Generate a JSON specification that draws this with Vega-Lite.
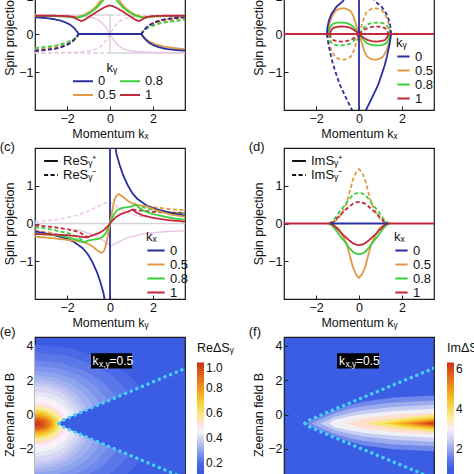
{
"$schema":"https://vega.github.io/schema/vega-lite/v6.json",
"background":"white",
"padding":{"left":-1,"top":-43,"right":0,"bottom":0},
"autosize":{"type":"pad"},
"columns":2,
"spacing":{"row":38,"column":99},
"bounds":"flush",
"resolve":{"scale":{"x":"independent","y":"independent","color":"independent","strokeDash":"independent"},"legend":{"color":"independent","strokeDash":"independent"},"axis":{"x":"independent","y":"independent"}},
"config":{
 "font":"Liberation Sans",
 "view":{"stroke":"#1a1a1a","strokeWidth":1.2},
 "axis":{"labelFont":"Liberation Sans","titleFont":"Liberation Sans","labelFontSize":12.5,"titleFontSize":12.5,"titleFontWeight":"normal","labelColor":"#111","titleColor":"#111","grid":false,"domain":false,"tickColor":"#222","tickSize":-4,"labelPadding":6,"titlePadding":2},
 "axisX":{"titlePadding":3},
 "legend":{"labelFont":"Liberation Sans","titleFont":"Liberation Sans","labelFontSize":13,"titleFontSize":13,"titleFontWeight":"normal","labelColor":"#111","titleColor":"#111","symbolType":"stroke","symbolStrokeWidth":2,"rowPadding":0,"titlePadding":0,"padding":0,"labelOffset":4},
 "title":{"font":"Liberation Sans","fontSize":13,"fontWeight":"normal","color":"#111"}
},
"datasets":{
"Ag":[
{"s":"g1","t":"+","x":-3.5,"y":0.5},{"s":"g1","t":"+","x":0,"y":0.5},
{"s":"g2","t":"+","x":0,"y":0.5},{"s":"g2","t":"+","x":0,"y":-0.5},
{"s":"g3","t":"+","x":0,"y":-0.5},{"s":"g3","t":"+","x":3.5,"y":-0.5},
{"s":"g4","t":"-","x":-3.5,"y":-0.5},{"s":"g4","t":"-","x":0,"y":-0.5},
{"s":"g5","t":"-","x":0,"y":0.5},{"s":"g5","t":"-","x":3.5,"y":0.5}],
"Ak":[
{"s":"p1","t":"+","x":-3.5,"y":0.495},{"s":"p1","t":"+","x":-2,"y":0.485},{"s":"p1","t":"+","x":-1.5,"y":0.474},{"s":"p1","t":"+","x":-1.2,"y":0.46},{"s":"p1","t":"+","x":-1,"y":0.447},{"s":"p1","t":"+","x":-0.8,"y":0.424},{"s":"p1","t":"+","x":-0.6,"y":0.384},{"s":"p1","t":"+","x":-0.4,"y":0.312},{"s":"p1","t":"+","x":-0.2,"y":0.186},{"s":"p1","t":"+","x":0,"y":0},{"s":"p1","t":"+","x":0.2,"y":-0.186},{"s":"p1","t":"+","x":0.4,"y":-0.312},{"s":"p1","t":"+","x":0.6,"y":-0.384},{"s":"p1","t":"+","x":0.8,"y":-0.424},{"s":"p1","t":"+","x":1,"y":-0.447},{"s":"p1","t":"+","x":1.2,"y":-0.46},{"s":"p1","t":"+","x":1.5,"y":-0.474},{"s":"p1","t":"+","x":2,"y":-0.485},{"s":"p1","t":"+","x":3.5,"y":-0.495},
{"s":"p2","t":"-","x":-3.5,"y":-0.495},{"s":"p2","t":"-","x":-2,"y":-0.485},{"s":"p2","t":"-","x":-1.5,"y":-0.474},{"s":"p2","t":"-","x":-1.2,"y":-0.46},{"s":"p2","t":"-","x":-1,"y":-0.447},{"s":"p2","t":"-","x":-0.8,"y":-0.424},{"s":"p2","t":"-","x":-0.6,"y":-0.384},{"s":"p2","t":"-","x":-0.4,"y":-0.312},{"s":"p2","t":"-","x":-0.2,"y":-0.186},{"s":"p2","t":"-","x":0,"y":0},{"s":"p2","t":"-","x":0.2,"y":0.186},{"s":"p2","t":"-","x":0.4,"y":0.312},{"s":"p2","t":"-","x":0.6,"y":0.384},{"s":"p2","t":"-","x":0.8,"y":0.424},{"s":"p2","t":"-","x":1,"y":0.447},{"s":"p2","t":"-","x":1.2,"y":0.46},{"s":"p2","t":"-","x":1.5,"y":0.474},{"s":"p2","t":"-","x":2,"y":0.485},{"s":"p2","t":"-","x":3.5,"y":0.495}],
"A":[
{"s":"a5d","k":"0.5","t":"-","x":-3.5,"y":-0.41},{"s":"a5d","k":"0.5","t":"-","x":-3,"y":-0.38},{"s":"a5d","k":"0.5","t":"-","x":-2.5,"y":-0.34},{"s":"a5d","k":"0.5","t":"-","x":-2.1,"y":-0.28},{"s":"a5d","k":"0.5","t":"-","x":-1.8,"y":-0.2},{"s":"a5d","k":"0.5","t":"-","x":-1.6,"y":-0.11},{"s":"a5d","k":"0.5","t":"-","x":-1.46,"y":0},
{"s":"a5e","k":"0.5","t":"-","x":1.46,"y":0},{"s":"a5e","k":"0.5","t":"-","x":1.6,"y":0.11},{"s":"a5e","k":"0.5","t":"-","x":1.8,"y":0.2},{"s":"a5e","k":"0.5","t":"-","x":2.1,"y":0.28},{"s":"a5e","k":"0.5","t":"-","x":2.5,"y":0.34},{"s":"a5e","k":"0.5","t":"-","x":3,"y":0.38},{"s":"a5e","k":"0.5","t":"-","x":3.5,"y":0.41},
{"s":"a5r","k":"0.5","t":"+","x":1.46,"y":0},{"s":"a5r","k":"0.5","t":"+","x":1.6,"y":-0.1},{"s":"a5r","k":"0.5","t":"+","x":1.8,"y":-0.19},{"s":"a5r","k":"0.5","t":"+","x":2.1,"y":-0.27},{"s":"a5r","k":"0.5","t":"+","x":2.5,"y":-0.33},{"s":"a5r","k":"0.5","t":"+","x":3,"y":-0.37},{"s":"a5r","k":"0.5","t":"+","x":3.5,"y":-0.4},
{"s":"a8d","k":"0.8","t":"-","x":-3.5,"y":-0.37},{"s":"a8d","k":"0.8","t":"-","x":-3,"y":-0.34},{"s":"a8d","k":"0.8","t":"-","x":-2.5,"y":-0.3},{"s":"a8d","k":"0.8","t":"-","x":-2.1,"y":-0.24},{"s":"a8d","k":"0.8","t":"-","x":-1.8,"y":-0.17},{"s":"a8d","k":"0.8","t":"-","x":-1.6,"y":-0.1},{"s":"a8d","k":"0.8","t":"-","x":-1.46,"y":0},
{"s":"a8e","k":"0.8","t":"-","x":1.46,"y":0},{"s":"a8e","k":"0.8","t":"-","x":1.6,"y":0.1},{"s":"a8e","k":"0.8","t":"-","x":1.8,"y":0.17},{"s":"a8e","k":"0.8","t":"-","x":2.1,"y":0.24},{"s":"a8e","k":"0.8","t":"-","x":2.5,"y":0.3},{"s":"a8e","k":"0.8","t":"-","x":3,"y":0.34},{"s":"a8e","k":"0.8","t":"-","x":3.5,"y":0.37},
{"s":"a1d","k":"1","t":"-","x":-3.5,"y":-0.45},{"s":"a1d","k":"1","t":"-","x":-3,"y":-0.42},{"s":"a1d","k":"1","t":"-","x":-2.5,"y":-0.38},{"s":"a1d","k":"1","t":"-","x":-2.1,"y":-0.31},{"s":"a1d","k":"1","t":"-","x":-1.8,"y":-0.22},{"s":"a1d","k":"1","t":"-","x":-1.6,"y":-0.12},{"s":"a1d","k":"1","t":"-","x":-1.46,"y":0},
{"s":"a1e","k":"1","t":"-","x":1.46,"y":0},{"s":"a1e","k":"1","t":"-","x":1.6,"y":0.12},{"s":"a1e","k":"1","t":"-","x":1.8,"y":0.22},{"s":"a1e","k":"1","t":"-","x":2.1,"y":0.31},{"s":"a1e","k":"1","t":"-","x":2.5,"y":0.38},{"s":"a1e","k":"1","t":"-","x":3,"y":0.42},{"s":"a1e","k":"1","t":"-","x":3.5,"y":0.45},
{"s":"a0d","k":"0","t":"-","x":-3.5,"y":-0.44},{"s":"a0d","k":"0","t":"-","x":-3,"y":-0.42},{"s":"a0d","k":"0","t":"-","x":-2.6,"y":-0.39},{"s":"a0d","k":"0","t":"-","x":-2.3,"y":-0.35},{"s":"a0d","k":"0","t":"-","x":-2.05,"y":-0.3},{"s":"a0d","k":"0","t":"-","x":-1.85,"y":-0.24},{"s":"a0d","k":"0","t":"-","x":-1.7,"y":-0.17},{"s":"a0d","k":"0","t":"-","x":-1.6,"y":-0.11},{"s":"a0d","k":"0","t":"-","x":-1.52,"y":-0.05},{"s":"a0d","k":"0","t":"-","x":-1.46,"y":0},{"s":"a0d","k":"0","t":"-","x":1.46,"y":0},{"s":"a0d","k":"0","t":"-","x":1.52,"y":0.05},{"s":"a0d","k":"0","t":"-","x":1.6,"y":0.11},{"s":"a0d","k":"0","t":"-","x":1.7,"y":0.17},{"s":"a0d","k":"0","t":"-","x":1.85,"y":0.24},{"s":"a0d","k":"0","t":"-","x":2.05,"y":0.3},{"s":"a0d","k":"0","t":"-","x":2.3,"y":0.35},{"s":"a0d","k":"0","t":"-","x":2.6,"y":0.39},{"s":"a0d","k":"0","t":"-","x":3,"y":0.42},{"s":"a0d","k":"0","t":"-","x":3.5,"y":0.44},
{"s":"a0s","k":"0","t":"+","x":-3.5,"y":0.44},{"s":"a0s","k":"0","t":"+","x":-3,"y":0.42},{"s":"a0s","k":"0","t":"+","x":-2.6,"y":0.39},{"s":"a0s","k":"0","t":"+","x":-2.3,"y":0.35},{"s":"a0s","k":"0","t":"+","x":-2.05,"y":0.3},{"s":"a0s","k":"0","t":"+","x":-1.85,"y":0.24},{"s":"a0s","k":"0","t":"+","x":-1.7,"y":0.17},{"s":"a0s","k":"0","t":"+","x":-1.6,"y":0.11},{"s":"a0s","k":"0","t":"+","x":-1.52,"y":0.05},{"s":"a0s","k":"0","t":"+","x":-1.46,"y":0},{"s":"a0s","k":"0","t":"+","x":1.46,"y":0},{"s":"a0s","k":"0","t":"+","x":1.52,"y":-0.05},{"s":"a0s","k":"0","t":"+","x":1.6,"y":-0.11},{"s":"a0s","k":"0","t":"+","x":1.7,"y":-0.17},{"s":"a0s","k":"0","t":"+","x":1.85,"y":-0.24},{"s":"a0s","k":"0","t":"+","x":2.05,"y":-0.3},{"s":"a0s","k":"0","t":"+","x":2.3,"y":-0.35},{"s":"a0s","k":"0","t":"+","x":2.6,"y":-0.39},{"s":"a0s","k":"0","t":"+","x":3,"y":-0.42},{"s":"a0s","k":"0","t":"+","x":3.5,"y":-0.44},
{"s":"a5s","k":"0.5","t":"+","x":-3.5,"y":0.47},{"s":"a5s","k":"0.5","t":"+","x":-2.5,"y":0.47},{"s":"a5s","k":"0.5","t":"+","x":-2,"y":0.46},{"s":"a5s","k":"0.5","t":"+","x":-1.7,"y":0.44},{"s":"a5s","k":"0.5","t":"+","x":-1.5,"y":0.45},{"s":"a5s","k":"0.5","t":"+","x":-1.2,"y":0.5},{"s":"a5s","k":"0.5","t":"+","x":-0.9,"y":0.6},{"s":"a5s","k":"0.5","t":"+","x":-0.65,"y":0.72},{"s":"a5s","k":"0.5","t":"+","x":-0.45,"y":0.87},{"s":"a5s","k":"0.5","t":"+","x":-0.3,"y":1.05},{"s":"a5s","k":"0.5","t":"+","x":-0.15,"y":1.25},{"s":"a5s","k":"0.5","t":"+","x":0,"y":1.35},{"s":"a5s","k":"0.5","t":"+","x":0.15,"y":1.25},{"s":"a5s","k":"0.5","t":"+","x":0.3,"y":1.05},{"s":"a5s","k":"0.5","t":"+","x":0.45,"y":0.87},{"s":"a5s","k":"0.5","t":"+","x":0.65,"y":0.72},{"s":"a5s","k":"0.5","t":"+","x":0.9,"y":0.6},{"s":"a5s","k":"0.5","t":"+","x":1.2,"y":0.5},{"s":"a5s","k":"0.5","t":"+","x":1.5,"y":0.45},{"s":"a5s","k":"0.5","t":"+","x":1.7,"y":0.44},{"s":"a5s","k":"0.5","t":"+","x":2,"y":0.46},{"s":"a5s","k":"0.5","t":"+","x":2.5,"y":0.47},{"s":"a5s","k":"0.5","t":"+","x":3.5,"y":0.47},
{"s":"a8s","k":"0.8","t":"+","x":-3.5,"y":0.47},{"s":"a8s","k":"0.8","t":"+","x":-2.5,"y":0.47},{"s":"a8s","k":"0.8","t":"+","x":-2,"y":0.46},{"s":"a8s","k":"0.8","t":"+","x":-1.7,"y":0.43},{"s":"a8s","k":"0.8","t":"+","x":-1.5,"y":0.43},{"s":"a8s","k":"0.8","t":"+","x":-1.2,"y":0.48},{"s":"a8s","k":"0.8","t":"+","x":-0.9,"y":0.57},{"s":"a8s","k":"0.8","t":"+","x":-0.6,"y":0.7},{"s":"a8s","k":"0.8","t":"+","x":-0.34,"y":0.87},{"s":"a8s","k":"0.8","t":"+","x":-0.15,"y":1.0},{"s":"a8s","k":"0.8","t":"+","x":0,"y":1.05},{"s":"a8s","k":"0.8","t":"+","x":0.15,"y":1.0},{"s":"a8s","k":"0.8","t":"+","x":0.34,"y":0.87},{"s":"a8s","k":"0.8","t":"+","x":0.6,"y":0.7},{"s":"a8s","k":"0.8","t":"+","x":0.9,"y":0.57},{"s":"a8s","k":"0.8","t":"+","x":1.2,"y":0.48},{"s":"a8s","k":"0.8","t":"+","x":1.5,"y":0.43},{"s":"a8s","k":"0.8","t":"+","x":1.7,"y":0.43},{"s":"a8s","k":"0.8","t":"+","x":2,"y":0.46},{"s":"a8s","k":"0.8","t":"+","x":2.5,"y":0.47},{"s":"a8s","k":"0.8","t":"+","x":3.5,"y":0.47},
{"s":"a1s","k":"1","t":"+","x":-3.5,"y":0.48},{"s":"a1s","k":"1","t":"+","x":-2.5,"y":0.48},{"s":"a1s","k":"1","t":"+","x":-2,"y":0.47},{"s":"a1s","k":"1","t":"+","x":-1.7,"y":0.45},{"s":"a1s","k":"1","t":"+","x":-1.5,"y":0.38},{"s":"a1s","k":"1","t":"+","x":-1.35,"y":0.34},{"s":"a1s","k":"1","t":"+","x":-1.2,"y":0.37},{"s":"a1s","k":"1","t":"+","x":-0.9,"y":0.48},{"s":"a1s","k":"1","t":"+","x":-0.6,"y":0.59},{"s":"a1s","k":"1","t":"+","x":-0.3,"y":0.69},{"s":"a1s","k":"1","t":"+","x":-0.1,"y":0.74},{"s":"a1s","k":"1","t":"+","x":0,"y":0.75},{"s":"a1s","k":"1","t":"+","x":0.1,"y":0.74},{"s":"a1s","k":"1","t":"+","x":0.3,"y":0.69},{"s":"a1s","k":"1","t":"+","x":0.6,"y":0.59},{"s":"a1s","k":"1","t":"+","x":0.9,"y":0.48},{"s":"a1s","k":"1","t":"+","x":1.2,"y":0.37},{"s":"a1s","k":"1","t":"+","x":1.35,"y":0.34},{"s":"a1s","k":"1","t":"+","x":1.5,"y":0.38},{"s":"a1s","k":"1","t":"+","x":1.7,"y":0.45},{"s":"a1s","k":"1","t":"+","x":2,"y":0.47},{"s":"a1s","k":"1","t":"+","x":2.5,"y":0.48},{"s":"a1s","k":"1","t":"+","x":3.5,"y":0.48}],
"B":[
{"s":"b5a","k":"0.5","t":"+","x":-1.46,"y":0},{"s":"b5a","k":"0.5","t":"+","x":-1.42,"y":0.2},{"s":"b5a","k":"0.5","t":"+","x":-1.35,"y":0.33},{"s":"b5a","k":"0.5","t":"+","x":-1.27,"y":0.45},{"s":"b5a","k":"0.5","t":"+","x":-1.15,"y":0.57},{"s":"b5a","k":"0.5","t":"+","x":-1.05,"y":0.63},{"s":"b5a","k":"0.5","t":"+","x":-0.85,"y":0.67},{"s":"b5a","k":"0.5","t":"+","x":-0.67,"y":0.675},{"s":"b5a","k":"0.5","t":"+","x":-0.5,"y":0.64},{"s":"b5a","k":"0.5","t":"+","x":-0.36,"y":0.58},{"s":"b5a","k":"0.5","t":"+","x":-0.25,"y":0.45},{"s":"b5a","k":"0.5","t":"+","x":-0.14,"y":0.25},{"s":"b5a","k":"0.5","t":"+","x":-0.06,"y":0.1},{"s":"b5a","k":"0.5","t":"+","x":0,"y":0},
{"s":"b5b","k":"0.5","t":"-","x":-1.46,"y":0},{"s":"b5b","k":"0.5","t":"-","x":-1.42,"y":-0.2},{"s":"b5b","k":"0.5","t":"-","x":-1.35,"y":-0.33},{"s":"b5b","k":"0.5","t":"-","x":-1.27,"y":-0.45},{"s":"b5b","k":"0.5","t":"-","x":-1.15,"y":-0.57},{"s":"b5b","k":"0.5","t":"-","x":-1.05,"y":-0.63},{"s":"b5b","k":"0.5","t":"-","x":-0.85,"y":-0.67},{"s":"b5b","k":"0.5","t":"-","x":-0.67,"y":-0.675},{"s":"b5b","k":"0.5","t":"-","x":-0.5,"y":-0.64},{"s":"b5b","k":"0.5","t":"-","x":-0.36,"y":-0.58},{"s":"b5b","k":"0.5","t":"-","x":-0.25,"y":-0.45},{"s":"b5b","k":"0.5","t":"-","x":-0.14,"y":-0.25},{"s":"b5b","k":"0.5","t":"-","x":-0.06,"y":-0.1},{"s":"b5b","k":"0.5","t":"-","x":0,"y":0},
{"s":"b5c","k":"0.5","t":"-","x":1.46,"y":0},{"s":"b5c","k":"0.5","t":"-","x":1.42,"y":0.2},{"s":"b5c","k":"0.5","t":"-","x":1.35,"y":0.33},{"s":"b5c","k":"0.5","t":"-","x":1.27,"y":0.45},{"s":"b5c","k":"0.5","t":"-","x":1.15,"y":0.57},{"s":"b5c","k":"0.5","t":"-","x":1.05,"y":0.63},{"s":"b5c","k":"0.5","t":"-","x":0.85,"y":0.67},{"s":"b5c","k":"0.5","t":"-","x":0.67,"y":0.675},{"s":"b5c","k":"0.5","t":"-","x":0.5,"y":0.64},{"s":"b5c","k":"0.5","t":"-","x":0.36,"y":0.58},{"s":"b5c","k":"0.5","t":"-","x":0.25,"y":0.45},{"s":"b5c","k":"0.5","t":"-","x":0.14,"y":0.25},{"s":"b5c","k":"0.5","t":"-","x":0.06,"y":0.1},{"s":"b5c","k":"0.5","t":"-","x":0,"y":0},
{"s":"b5d","k":"0.5","t":"+","x":1.46,"y":0},{"s":"b5d","k":"0.5","t":"+","x":1.42,"y":-0.2},{"s":"b5d","k":"0.5","t":"+","x":1.35,"y":-0.33},{"s":"b5d","k":"0.5","t":"+","x":1.27,"y":-0.45},{"s":"b5d","k":"0.5","t":"+","x":1.15,"y":-0.57},{"s":"b5d","k":"0.5","t":"+","x":1.05,"y":-0.63},{"s":"b5d","k":"0.5","t":"+","x":0.85,"y":-0.67},{"s":"b5d","k":"0.5","t":"+","x":0.67,"y":-0.675},{"s":"b5d","k":"0.5","t":"+","x":0.5,"y":-0.64},{"s":"b5d","k":"0.5","t":"+","x":0.36,"y":-0.58},{"s":"b5d","k":"0.5","t":"+","x":0.25,"y":-0.45},{"s":"b5d","k":"0.5","t":"+","x":0.14,"y":-0.25},{"s":"b5d","k":"0.5","t":"+","x":0.06,"y":-0.1},{"s":"b5d","k":"0.5","t":"+","x":0,"y":0},
{"s":"b8a","k":"0.8","t":"+","x":-1.44,"y":0},{"s":"b8a","k":"0.8","t":"+","x":-1.38,"y":0.14},{"s":"b8a","k":"0.8","t":"+","x":-1.3,"y":0.22},{"s":"b8a","k":"0.8","t":"+","x":-1.2,"y":0.27},{"s":"b8a","k":"0.8","t":"+","x":-1,"y":0.3},{"s":"b8a","k":"0.8","t":"+","x":-0.8,"y":0.3},{"s":"b8a","k":"0.8","t":"+","x":-0.6,"y":0.29},{"s":"b8a","k":"0.8","t":"+","x":-0.4,"y":0.25},{"s":"b8a","k":"0.8","t":"+","x":-0.25,"y":0.18},{"s":"b8a","k":"0.8","t":"+","x":-0.12,"y":0.09},{"s":"b8a","k":"0.8","t":"+","x":0,"y":0},
{"s":"b8b","k":"0.8","t":"-","x":-1.44,"y":0},{"s":"b8b","k":"0.8","t":"-","x":-1.38,"y":-0.14},{"s":"b8b","k":"0.8","t":"-","x":-1.3,"y":-0.22},{"s":"b8b","k":"0.8","t":"-","x":-1.2,"y":-0.27},{"s":"b8b","k":"0.8","t":"-","x":-1,"y":-0.3},{"s":"b8b","k":"0.8","t":"-","x":-0.8,"y":-0.3},{"s":"b8b","k":"0.8","t":"-","x":-0.6,"y":-0.29},{"s":"b8b","k":"0.8","t":"-","x":-0.4,"y":-0.25},{"s":"b8b","k":"0.8","t":"-","x":-0.25,"y":-0.18},{"s":"b8b","k":"0.8","t":"-","x":-0.12,"y":-0.09},{"s":"b8b","k":"0.8","t":"-","x":0,"y":0},
{"s":"b8c","k":"0.8","t":"-","x":1.44,"y":0},{"s":"b8c","k":"0.8","t":"-","x":1.38,"y":0.14},{"s":"b8c","k":"0.8","t":"-","x":1.3,"y":0.22},{"s":"b8c","k":"0.8","t":"-","x":1.2,"y":0.27},{"s":"b8c","k":"0.8","t":"-","x":1,"y":0.3},{"s":"b8c","k":"0.8","t":"-","x":0.8,"y":0.3},{"s":"b8c","k":"0.8","t":"-","x":0.6,"y":0.29},{"s":"b8c","k":"0.8","t":"-","x":0.4,"y":0.25},{"s":"b8c","k":"0.8","t":"-","x":0.25,"y":0.18},{"s":"b8c","k":"0.8","t":"-","x":0.12,"y":0.09},{"s":"b8c","k":"0.8","t":"-","x":0,"y":0},
{"s":"b8d","k":"0.8","t":"+","x":1.44,"y":0},{"s":"b8d","k":"0.8","t":"+","x":1.38,"y":-0.14},{"s":"b8d","k":"0.8","t":"+","x":1.3,"y":-0.22},{"s":"b8d","k":"0.8","t":"+","x":1.2,"y":-0.27},{"s":"b8d","k":"0.8","t":"+","x":1,"y":-0.3},{"s":"b8d","k":"0.8","t":"+","x":0.8,"y":-0.3},{"s":"b8d","k":"0.8","t":"+","x":0.6,"y":-0.29},{"s":"b8d","k":"0.8","t":"+","x":0.4,"y":-0.25},{"s":"b8d","k":"0.8","t":"+","x":0.25,"y":-0.18},{"s":"b8d","k":"0.8","t":"+","x":0.12,"y":-0.09},{"s":"b8d","k":"0.8","t":"+","x":0,"y":0},
{"s":"b1a","k":"1","t":"+","x":-1.38,"y":0},{"s":"b1a","k":"1","t":"+","x":-1.3,"y":0.1},{"s":"b1a","k":"1","t":"+","x":-1.2,"y":0.16},{"s":"b1a","k":"1","t":"+","x":-1,"y":0.19},{"s":"b1a","k":"1","t":"+","x":-0.8,"y":0.2},{"s":"b1a","k":"1","t":"+","x":-0.6,"y":0.19},{"s":"b1a","k":"1","t":"+","x":-0.4,"y":0.16},{"s":"b1a","k":"1","t":"+","x":-0.25,"y":0.11},{"s":"b1a","k":"1","t":"+","x":-0.1,"y":0.05},{"s":"b1a","k":"1","t":"+","x":0,"y":0},
{"s":"b1b","k":"1","t":"-","x":-1.38,"y":0},{"s":"b1b","k":"1","t":"-","x":-1.3,"y":-0.1},{"s":"b1b","k":"1","t":"-","x":-1.2,"y":-0.16},{"s":"b1b","k":"1","t":"-","x":-1,"y":-0.19},{"s":"b1b","k":"1","t":"-","x":-0.8,"y":-0.2},{"s":"b1b","k":"1","t":"-","x":-0.6,"y":-0.19},{"s":"b1b","k":"1","t":"-","x":-0.4,"y":-0.16},{"s":"b1b","k":"1","t":"-","x":-0.25,"y":-0.11},{"s":"b1b","k":"1","t":"-","x":-0.1,"y":-0.05},{"s":"b1b","k":"1","t":"-","x":0,"y":0},
{"s":"b1c","k":"1","t":"-","x":1.38,"y":0},{"s":"b1c","k":"1","t":"-","x":1.3,"y":0.1},{"s":"b1c","k":"1","t":"-","x":1.2,"y":0.16},{"s":"b1c","k":"1","t":"-","x":1,"y":0.19},{"s":"b1c","k":"1","t":"-","x":0.8,"y":0.2},{"s":"b1c","k":"1","t":"-","x":0.6,"y":0.19},{"s":"b1c","k":"1","t":"-","x":0.4,"y":0.16},{"s":"b1c","k":"1","t":"-","x":0.25,"y":0.11},{"s":"b1c","k":"1","t":"-","x":0.1,"y":0.05},{"s":"b1c","k":"1","t":"-","x":0,"y":0},
{"s":"b1d","k":"1","t":"+","x":1.38,"y":0},{"s":"b1d","k":"1","t":"+","x":1.3,"y":-0.1},{"s":"b1d","k":"1","t":"+","x":1.2,"y":-0.16},{"s":"b1d","k":"1","t":"+","x":1,"y":-0.19},{"s":"b1d","k":"1","t":"+","x":0.8,"y":-0.2},{"s":"b1d","k":"1","t":"+","x":0.6,"y":-0.19},{"s":"b1d","k":"1","t":"+","x":0.4,"y":-0.16},{"s":"b1d","k":"1","t":"+","x":0.25,"y":-0.11},{"s":"b1d","k":"1","t":"+","x":0.1,"y":-0.05},{"s":"b1d","k":"1","t":"+","x":0,"y":0},
{"s":"b0v","k":"0","t":"+","x":0,"y":-2.5},{"s":"b0v","k":"0","t":"+","x":0,"y":2.5},
{"s":"b0a","k":"0","t":"+","x":-1.5,"y":0},{"s":"b0a","k":"0","t":"+","x":-1.47,"y":0.18},{"s":"b0a","k":"0","t":"+","x":-1.42,"y":0.32},{"s":"b0a","k":"0","t":"+","x":-1.35,"y":0.44},{"s":"b0a","k":"0","t":"+","x":-1.27,"y":0.54},{"s":"b0a","k":"0","t":"+","x":-1.15,"y":0.64},{"s":"b0a","k":"0","t":"+","x":-1.05,"y":0.72},{"s":"b0a","k":"0","t":"+","x":-0.9,"y":0.79},{"s":"b0a","k":"0","t":"+","x":-0.74,"y":0.87},{"s":"b0a","k":"0","t":"+","x":-0.6,"y":1.0},{"s":"b0a","k":"0","t":"+","x":-0.45,"y":1.3},
{"s":"b0b","k":"0","t":"-","x":-1.5,"y":0},{"s":"b0b","k":"0","t":"-","x":-1.46,"y":-0.15},{"s":"b0b","k":"0","t":"-","x":-1.42,"y":-0.29},{"s":"b0b","k":"0","t":"-","x":-1.3,"y":-0.6},{"s":"b0b","k":"0","t":"-","x":-1.2,"y":-0.82},{"s":"b0b","k":"0","t":"-","x":-1.05,"y":-1.08},{"s":"b0b","k":"0","t":"-","x":-0.89,"y":-1.34},{"s":"b0b","k":"0","t":"-","x":-0.7,"y":-1.57},{"s":"b0b","k":"0","t":"-","x":-0.52,"y":-1.78},{"s":"b0b","k":"0","t":"-","x":-0.29,"y":-2.04},{"s":"b0b","k":"0","t":"-","x":-0.2,"y":-2.3},
{"s":"b0c","k":"0","t":"-","x":1.5,"y":0},{"s":"b0c","k":"0","t":"-","x":1.47,"y":0.18},{"s":"b0c","k":"0","t":"-","x":1.42,"y":0.32},{"s":"b0c","k":"0","t":"-","x":1.35,"y":0.44},{"s":"b0c","k":"0","t":"-","x":1.27,"y":0.54},{"s":"b0c","k":"0","t":"-","x":1.15,"y":0.64},{"s":"b0c","k":"0","t":"-","x":1.05,"y":0.72},{"s":"b0c","k":"0","t":"-","x":0.9,"y":0.79},{"s":"b0c","k":"0","t":"-","x":0.74,"y":0.87},{"s":"b0c","k":"0","t":"-","x":0.6,"y":1.0},{"s":"b0c","k":"0","t":"-","x":0.45,"y":1.3},
{"s":"b0d","k":"0","t":"+","x":1.5,"y":0},{"s":"b0d","k":"0","t":"+","x":1.46,"y":-0.15},{"s":"b0d","k":"0","t":"+","x":1.42,"y":-0.29},{"s":"b0d","k":"0","t":"+","x":1.3,"y":-0.6},{"s":"b0d","k":"0","t":"+","x":1.2,"y":-0.82},{"s":"b0d","k":"0","t":"+","x":1.05,"y":-1.08},{"s":"b0d","k":"0","t":"+","x":0.89,"y":-1.34},{"s":"b0d","k":"0","t":"+","x":0.7,"y":-1.57},{"s":"b0d","k":"0","t":"+","x":0.52,"y":-1.78},{"s":"b0d","k":"0","t":"+","x":0.29,"y":-2.04},{"s":"b0d","k":"0","t":"+","x":0.2,"y":-2.3},
{"s":"b1h","k":"1","t":"+","x":-3.5,"y":0},{"s":"b1h","k":"1","t":"+","x":3.5,"y":0}],
"Cg":[{"s":"g","t":"+","x":-3.5,"y":0},{"s":"g","t":"+","x":3.5,"y":0}],
"Ck":[
{"s":"k1","t":"-","x":-3.5,"y":0.05},{"s":"k1","t":"-","x":-2.5,"y":0.1},{"s":"k1","t":"-","x":-1.5,"y":0.22},{"s":"k1","t":"-","x":-1,"y":0.33},{"s":"k1","t":"-","x":-0.5,"y":0.47},{"s":"k1","t":"-","x":-0.2,"y":0.55},{"s":"k1","t":"-","x":0,"y":0.57},
{"s":"k2","t":"-","x":0,"y":0.57},{"s":"k2","t":"-","x":0.3,"y":0.45},{"s":"k2","t":"-","x":0.7,"y":0.32},{"s":"k2","t":"-","x":1.2,"y":0.22},{"s":"k2","t":"-","x":1.7,"y":0.15},
{"s":"k3","t":"+","x":0,"y":-0.6},{"s":"k3","t":"+","x":0.3,"y":-0.52},{"s":"k3","t":"+","x":0.8,"y":-0.38},{"s":"k3","t":"+","x":1.5,"y":-0.28},{"s":"k3","t":"+","x":2.5,"y":-0.22},{"s":"k3","t":"+","x":3.5,"y":-0.19},
{"s":"k4","t":"+","x":-1.7,"y":-0.15},{"s":"k4","t":"+","x":-1.2,"y":-0.22},{"s":"k4","t":"+","x":-0.7,"y":-0.32},{"s":"k4","t":"+","x":-0.3,"y":-0.45},{"s":"k4","t":"+","x":0,"y":-0.57}],
"C":[
{"s":"c5e","k":"0.5","t":"-","x":-3.5,"y":-0.18},{"s":"c5e","k":"0.5","t":"-","x":-2.8,"y":-0.24},{"s":"c5e","k":"0.5","t":"-","x":-2.2,"y":-0.34},{"s":"c5e","k":"0.5","t":"-","x":-1.73,"y":-0.45},
{"s":"c5f","k":"0.5","t":"-","x":1.73,"y":0.45},{"s":"c5f","k":"0.5","t":"-","x":2.2,"y":0.42},{"s":"c5f","k":"0.5","t":"-","x":2.8,"y":0.38},{"s":"c5f","k":"0.5","t":"-","x":3.5,"y":0.35},
{"s":"c8e","k":"0.8","t":"-","x":-3.5,"y":-0.1},{"s":"c8e","k":"0.8","t":"-","x":-3,"y":-0.13},{"s":"c8e","k":"0.8","t":"-","x":-2.5,"y":-0.19},{"s":"c8e","k":"0.8","t":"-","x":-2,"y":-0.25},{"s":"c8e","k":"0.8","t":"-","x":-1.6,"y":-0.33},{"s":"c8e","k":"0.8","t":"-","x":-1.35,"y":-0.42},{"s":"c8e","k":"0.8","t":"-","x":-1.2,"y":-0.5},
{"s":"c8f","k":"0.8","t":"-","x":1.2,"y":0.5},{"s":"c8f","k":"0.8","t":"-","x":1.35,"y":0.47},{"s":"c8f","k":"0.8","t":"-","x":1.6,"y":0.42},{"s":"c8f","k":"0.8","t":"-","x":2,"y":0.36},{"s":"c8f","k":"0.8","t":"-","x":2.5,"y":0.31},{"s":"c8f","k":"0.8","t":"-","x":3,"y":0.29},{"s":"c8f","k":"0.8","t":"-","x":3.5,"y":0.27},
{"s":"c1e","k":"1","t":"-","x":-3.5,"y":-0.05},{"s":"c1e","k":"1","t":"-","x":-2.7,"y":-0.09},{"s":"c1e","k":"1","t":"-","x":-2,"y":-0.15},{"s":"c1e","k":"1","t":"-","x":-1.5,"y":-0.22},{"s":"c1e","k":"1","t":"-","x":-1.2,"y":-0.3},{"s":"c1e","k":"1","t":"-","x":-1.05,"y":-0.37},
{"s":"c1f","k":"1","t":"-","x":1.05,"y":0.37},{"s":"c1f","k":"1","t":"-","x":1.2,"y":0.36},{"s":"c1f","k":"1","t":"-","x":1.5,"y":0.34},{"s":"c1f","k":"1","t":"-","x":2,"y":0.31},{"s":"c1f","k":"1","t":"-","x":2.7,"y":0.29},{"s":"c1f","k":"1","t":"-","x":3.5,"y":0.28},
{"s":"c0a","k":"0","t":"+","x":0.2,"y":2.35},{"s":"c0a","k":"0","t":"+","x":0.23,"y":2.09},{"s":"c0a","k":"0","t":"+","x":0.3,"y":1.85},{"s":"c0a","k":"0","t":"+","x":0.45,"y":1.55},{"s":"c0a","k":"0","t":"+","x":0.6,"y":1.3},{"s":"c0a","k":"0","t":"+","x":0.83,"y":1.01},{"s":"c0a","k":"0","t":"+","x":1.05,"y":0.8},{"s":"c0a","k":"0","t":"+","x":1.28,"y":0.65},{"s":"c0a","k":"0","t":"+","x":1.73,"y":0.47},{"s":"c0a","k":"0","t":"+","x":2.1,"y":0.39},{"s":"c0a","k":"0","t":"+","x":2.49,"y":0.33},{"s":"c0a","k":"0","t":"+","x":3,"y":0.26},{"s":"c0a","k":"0","t":"+","x":3.5,"y":0.21},
{"s":"c0b","k":"0","t":"+","x":-3.5,"y":-0.21},{"s":"c0b","k":"0","t":"+","x":-3,"y":-0.26},{"s":"c0b","k":"0","t":"+","x":-2.49,"y":-0.33},{"s":"c0b","k":"0","t":"+","x":-2.1,"y":-0.39},{"s":"c0b","k":"0","t":"+","x":-1.73,"y":-0.47},{"s":"c0b","k":"0","t":"+","x":-1.28,"y":-0.65},{"s":"c0b","k":"0","t":"+","x":-1.05,"y":-0.8},{"s":"c0b","k":"0","t":"+","x":-0.83,"y":-1.01},{"s":"c0b","k":"0","t":"+","x":-0.6,"y":-1.3},{"s":"c0b","k":"0","t":"+","x":-0.45,"y":-1.55},{"s":"c0b","k":"0","t":"+","x":-0.3,"y":-1.85},{"s":"c0b","k":"0","t":"+","x":-0.23,"y":-2.09},{"s":"c0b","k":"0","t":"+","x":-0.2,"y":-2.35},
{"s":"c0v","k":"0","t":"+","x":0,"y":-2.5},{"s":"c0v","k":"0","t":"+","x":0,"y":2.5},
{"s":"c5s","k":"0.5","t":"+","x":-3.5,"y":-0.35},{"s":"c5s","k":"0.5","t":"+","x":-2.8,"y":-0.38},{"s":"c5s","k":"0.5","t":"+","x":-2.2,"y":-0.42},{"s":"c5s","k":"0.5","t":"+","x":-1.73,"y":-0.45},{"s":"c5s","k":"0.5","t":"+","x":-1.5,"y":-0.47},{"s":"c5s","k":"0.5","t":"+","x":-1.28,"y":-0.49},{"s":"c5s","k":"0.5","t":"+","x":-1.05,"y":-0.53},{"s":"c5s","k":"0.5","t":"+","x":-0.83,"y":-0.6},{"s":"c5s","k":"0.5","t":"+","x":-0.6,"y":-0.71},{"s":"c5s","k":"0.5","t":"+","x":-0.41,"y":-0.78},{"s":"c5s","k":"0.5","t":"+","x":-0.3,"y":-0.74},{"s":"c5s","k":"0.5","t":"+","x":-0.22,"y":-0.64},{"s":"c5s","k":"0.5","t":"+","x":-0.15,"y":-0.47},{"s":"c5s","k":"0.5","t":"+","x":-0.08,"y":-0.25},{"s":"c5s","k":"0.5","t":"+","x":0,"y":0},{"s":"c5s","k":"0.5","t":"+","x":0.08,"y":0.25},{"s":"c5s","k":"0.5","t":"+","x":0.15,"y":0.47},{"s":"c5s","k":"0.5","t":"+","x":0.22,"y":0.64},{"s":"c5s","k":"0.5","t":"+","x":0.3,"y":0.74},{"s":"c5s","k":"0.5","t":"+","x":0.41,"y":0.78},{"s":"c5s","k":"0.5","t":"+","x":0.6,"y":0.71},{"s":"c5s","k":"0.5","t":"+","x":0.83,"y":0.6},{"s":"c5s","k":"0.5","t":"+","x":1.05,"y":0.53},{"s":"c5s","k":"0.5","t":"+","x":1.28,"y":0.49},{"s":"c5s","k":"0.5","t":"+","x":1.5,"y":0.47},{"s":"c5s","k":"0.5","t":"+","x":1.73,"y":0.45},{"s":"c5s","k":"0.5","t":"+","x":2.2,"y":0.34},{"s":"c5s","k":"0.5","t":"+","x":2.8,"y":0.24},{"s":"c5s","k":"0.5","t":"+","x":3.5,"y":0.18},
{"s":"c8s","k":"0.8","t":"+","x":-3.5,"y":-0.27},{"s":"c8s","k":"0.8","t":"+","x":-3,"y":-0.29},{"s":"c8s","k":"0.8","t":"+","x":-2.5,"y":-0.31},{"s":"c8s","k":"0.8","t":"+","x":-2,"y":-0.36},{"s":"c8s","k":"0.8","t":"+","x":-1.6,"y":-0.42},{"s":"c8s","k":"0.8","t":"+","x":-1.35,"y":-0.47},{"s":"c8s","k":"0.8","t":"+","x":-1.2,"y":-0.5},{"s":"c8s","k":"0.8","t":"+","x":-1,"y":-0.45},{"s":"c8s","k":"0.8","t":"+","x":-0.8,"y":-0.43},{"s":"c8s","k":"0.8","t":"+","x":-0.55,"y":-0.41},{"s":"c8s","k":"0.8","t":"+","x":-0.35,"y":-0.36},{"s":"c8s","k":"0.8","t":"+","x":-0.2,"y":-0.26},{"s":"c8s","k":"0.8","t":"+","x":-0.1,"y":-0.14},{"s":"c8s","k":"0.8","t":"+","x":0,"y":0},{"s":"c8s","k":"0.8","t":"+","x":0.1,"y":0.14},{"s":"c8s","k":"0.8","t":"+","x":0.2,"y":0.26},{"s":"c8s","k":"0.8","t":"+","x":0.35,"y":0.36},{"s":"c8s","k":"0.8","t":"+","x":0.55,"y":0.41},{"s":"c8s","k":"0.8","t":"+","x":0.8,"y":0.43},{"s":"c8s","k":"0.8","t":"+","x":1,"y":0.45},{"s":"c8s","k":"0.8","t":"+","x":1.2,"y":0.5},{"s":"c8s","k":"0.8","t":"+","x":1.35,"y":0.42},{"s":"c8s","k":"0.8","t":"+","x":1.6,"y":0.33},{"s":"c8s","k":"0.8","t":"+","x":2,"y":0.25},{"s":"c8s","k":"0.8","t":"+","x":2.5,"y":0.19},{"s":"c8s","k":"0.8","t":"+","x":3,"y":0.13},{"s":"c8s","k":"0.8","t":"+","x":3.5,"y":0.1},
{"s":"c1s","k":"1","t":"+","x":-3.5,"y":-0.28},{"s":"c1s","k":"1","t":"+","x":-2.7,"y":-0.29},{"s":"c1s","k":"1","t":"+","x":-2,"y":-0.31},{"s":"c1s","k":"1","t":"+","x":-1.5,"y":-0.34},{"s":"c1s","k":"1","t":"+","x":-1.2,"y":-0.36},{"s":"c1s","k":"1","t":"+","x":-1.05,"y":-0.37},{"s":"c1s","k":"1","t":"+","x":-0.9,"y":-0.33},{"s":"c1s","k":"1","t":"+","x":-0.7,"y":-0.29},{"s":"c1s","k":"1","t":"+","x":-0.5,"y":-0.25},{"s":"c1s","k":"1","t":"+","x":-0.3,"y":-0.18},{"s":"c1s","k":"1","t":"+","x":-0.15,"y":-0.1},{"s":"c1s","k":"1","t":"+","x":0,"y":0},{"s":"c1s","k":"1","t":"+","x":0.15,"y":0.1},{"s":"c1s","k":"1","t":"+","x":0.3,"y":0.18},{"s":"c1s","k":"1","t":"+","x":0.5,"y":0.25},{"s":"c1s","k":"1","t":"+","x":0.7,"y":0.29},{"s":"c1s","k":"1","t":"+","x":0.9,"y":0.33},{"s":"c1s","k":"1","t":"+","x":1.05,"y":0.37},{"s":"c1s","k":"1","t":"+","x":1.2,"y":0.3},{"s":"c1s","k":"1","t":"+","x":1.5,"y":0.22},{"s":"c1s","k":"1","t":"+","x":2,"y":0.15},{"s":"c1s","k":"1","t":"+","x":2.7,"y":0.09},{"s":"c1s","k":"1","t":"+","x":3.5,"y":0.05}],
"D":[
{"s":"d5a","k":"0.5","t":"-","x":-1.46,"y":0},{"s":"d5a","k":"0.5","t":"-","x":-1.2,"y":0.04},{"s":"d5a","k":"0.5","t":"-","x":-0.97,"y":0.12},{"s":"d5a","k":"0.5","t":"-","x":-0.8,"y":0.28},{"s":"d5a","k":"0.5","t":"-","x":-0.59,"y":0.52},{"s":"d5a","k":"0.5","t":"-","x":-0.45,"y":0.8},{"s":"d5a","k":"0.5","t":"-","x":-0.29,"y":1.15},{"s":"d5a","k":"0.5","t":"-","x":-0.14,"y":1.35},{"s":"d5a","k":"0.5","t":"-","x":0,"y":1.44},{"s":"d5a","k":"0.5","t":"-","x":0.14,"y":1.35},{"s":"d5a","k":"0.5","t":"-","x":0.29,"y":1.15},{"s":"d5a","k":"0.5","t":"-","x":0.45,"y":0.8},{"s":"d5a","k":"0.5","t":"-","x":0.59,"y":0.52},{"s":"d5a","k":"0.5","t":"-","x":0.8,"y":0.28},{"s":"d5a","k":"0.5","t":"-","x":0.97,"y":0.12},{"s":"d5a","k":"0.5","t":"-","x":1.2,"y":0.04},{"s":"d5a","k":"0.5","t":"-","x":1.46,"y":0},
{"s":"d5b","k":"0.5","t":"+","x":-1.46,"y":0},{"s":"d5b","k":"0.5","t":"+","x":-1.2,"y":-0.04},{"s":"d5b","k":"0.5","t":"+","x":-0.97,"y":-0.12},{"s":"d5b","k":"0.5","t":"+","x":-0.8,"y":-0.28},{"s":"d5b","k":"0.5","t":"+","x":-0.59,"y":-0.52},{"s":"d5b","k":"0.5","t":"+","x":-0.45,"y":-0.8},{"s":"d5b","k":"0.5","t":"+","x":-0.29,"y":-1.15},{"s":"d5b","k":"0.5","t":"+","x":-0.14,"y":-1.35},{"s":"d5b","k":"0.5","t":"+","x":0,"y":-1.44},{"s":"d5b","k":"0.5","t":"+","x":0.14,"y":-1.35},{"s":"d5b","k":"0.5","t":"+","x":0.29,"y":-1.15},{"s":"d5b","k":"0.5","t":"+","x":0.45,"y":-0.8},{"s":"d5b","k":"0.5","t":"+","x":0.59,"y":-0.52},{"s":"d5b","k":"0.5","t":"+","x":0.8,"y":-0.28},{"s":"d5b","k":"0.5","t":"+","x":0.97,"y":-0.12},{"s":"d5b","k":"0.5","t":"+","x":1.2,"y":-0.04},{"s":"d5b","k":"0.5","t":"+","x":1.46,"y":0},
{"s":"d8a","k":"0.8","t":"-","x":-1.4,"y":0},{"s":"d8a","k":"0.8","t":"-","x":-1.25,"y":0.06},{"s":"d8a","k":"0.8","t":"-","x":-1.12,"y":0.14},{"s":"d8a","k":"0.8","t":"-","x":-0.9,"y":0.32},{"s":"d8a","k":"0.8","t":"-","x":-0.67,"y":0.48},{"s":"d8a","k":"0.8","t":"-","x":-0.45,"y":0.65},{"s":"d8a","k":"0.8","t":"-","x":-0.29,"y":0.75},{"s":"d8a","k":"0.8","t":"-","x":-0.14,"y":0.8},{"s":"d8a","k":"0.8","t":"-","x":0,"y":0.81},{"s":"d8a","k":"0.8","t":"-","x":0.14,"y":0.8},{"s":"d8a","k":"0.8","t":"-","x":0.29,"y":0.75},{"s":"d8a","k":"0.8","t":"-","x":0.45,"y":0.65},{"s":"d8a","k":"0.8","t":"-","x":0.67,"y":0.48},{"s":"d8a","k":"0.8","t":"-","x":0.9,"y":0.32},{"s":"d8a","k":"0.8","t":"-","x":1.12,"y":0.14},{"s":"d8a","k":"0.8","t":"-","x":1.25,"y":0.06},{"s":"d8a","k":"0.8","t":"-","x":1.4,"y":0},
{"s":"d8b","k":"0.8","t":"+","x":-1.4,"y":0},{"s":"d8b","k":"0.8","t":"+","x":-1.25,"y":-0.06},{"s":"d8b","k":"0.8","t":"+","x":-1.12,"y":-0.14},{"s":"d8b","k":"0.8","t":"+","x":-0.9,"y":-0.32},{"s":"d8b","k":"0.8","t":"+","x":-0.67,"y":-0.48},{"s":"d8b","k":"0.8","t":"+","x":-0.45,"y":-0.65},{"s":"d8b","k":"0.8","t":"+","x":-0.29,"y":-0.75},{"s":"d8b","k":"0.8","t":"+","x":-0.14,"y":-0.8},{"s":"d8b","k":"0.8","t":"+","x":0,"y":-0.81},{"s":"d8b","k":"0.8","t":"+","x":0.14,"y":-0.8},{"s":"d8b","k":"0.8","t":"+","x":0.29,"y":-0.75},{"s":"d8b","k":"0.8","t":"+","x":0.45,"y":-0.65},{"s":"d8b","k":"0.8","t":"+","x":0.67,"y":-0.48},{"s":"d8b","k":"0.8","t":"+","x":0.9,"y":-0.32},{"s":"d8b","k":"0.8","t":"+","x":1.12,"y":-0.14},{"s":"d8b","k":"0.8","t":"+","x":1.25,"y":-0.06},{"s":"d8b","k":"0.8","t":"+","x":1.4,"y":0},
{"s":"d1a","k":"1","t":"-","x":-1.3,"y":0},{"s":"d1a","k":"1","t":"-","x":-1.15,"y":0.06},{"s":"d1a","k":"1","t":"-","x":-1.05,"y":0.12},{"s":"d1a","k":"1","t":"-","x":-0.85,"y":0.24},{"s":"d1a","k":"1","t":"-","x":-0.67,"y":0.34},{"s":"d1a","k":"1","t":"-","x":-0.45,"y":0.45},{"s":"d1a","k":"1","t":"-","x":-0.29,"y":0.52},{"s":"d1a","k":"1","t":"-","x":-0.14,"y":0.56},{"s":"d1a","k":"1","t":"-","x":0,"y":0.57},{"s":"d1a","k":"1","t":"-","x":0.14,"y":0.56},{"s":"d1a","k":"1","t":"-","x":0.29,"y":0.52},{"s":"d1a","k":"1","t":"-","x":0.45,"y":0.45},{"s":"d1a","k":"1","t":"-","x":0.67,"y":0.34},{"s":"d1a","k":"1","t":"-","x":0.85,"y":0.24},{"s":"d1a","k":"1","t":"-","x":1.05,"y":0.12},{"s":"d1a","k":"1","t":"-","x":1.15,"y":0.06},{"s":"d1a","k":"1","t":"-","x":1.3,"y":0},
{"s":"d1b","k":"1","t":"+","x":-1.3,"y":0},{"s":"d1b","k":"1","t":"+","x":-1.15,"y":-0.06},{"s":"d1b","k":"1","t":"+","x":-1.05,"y":-0.12},{"s":"d1b","k":"1","t":"+","x":-0.85,"y":-0.24},{"s":"d1b","k":"1","t":"+","x":-0.67,"y":-0.34},{"s":"d1b","k":"1","t":"+","x":-0.45,"y":-0.45},{"s":"d1b","k":"1","t":"+","x":-0.29,"y":-0.52},{"s":"d1b","k":"1","t":"+","x":-0.14,"y":-0.56},{"s":"d1b","k":"1","t":"+","x":0,"y":-0.57},{"s":"d1b","k":"1","t":"+","x":0.14,"y":-0.56},{"s":"d1b","k":"1","t":"+","x":0.29,"y":-0.52},{"s":"d1b","k":"1","t":"+","x":0.45,"y":-0.45},{"s":"d1b","k":"1","t":"+","x":0.67,"y":-0.34},{"s":"d1b","k":"1","t":"+","x":0.85,"y":-0.24},{"s":"d1b","k":"1","t":"+","x":1.05,"y":-0.12},{"s":"d1b","k":"1","t":"+","x":1.15,"y":-0.06},{"s":"d1b","k":"1","t":"+","x":1.3,"y":0},
{"s":"d1l","k":"1","t":"+","x":-3.5,"y":0},{"s":"d1l","k":"1","t":"+","x":-1.3,"y":0},
{"s":"d1r","k":"1","t":"+","x":1.3,"y":0},{"s":"d1r","k":"1","t":"+","x":3.5,"y":0},
{"s":"d0m","k":"0","t":"+","x":-1.35,"y":0},{"s":"d0m","k":"0","t":"+","x":1.35,"y":0}],
"E":[
{"l":1,"v":0.2,"x":0,"lo":-5.15,"hi":4.05},{"l":1,"v":0.2,"x":0.72,"lo":-4.94,"hi":3.84},{"l":1,"v":0.2,"x":1.32,"lo":-4.39,"hi":3.29},{"l":1,"v":0.2,"x":1.8,"lo":-3.59,"hi":2.49},{"l":1,"v":0.2,"x":2.16,"lo":-2.56,"hi":1.46},{"l":1,"v":0.2,"x":2.33,"lo":-1.67,"hi":0.57},{"l":1,"v":0.2,"x":2.4,"lo":-0.55,"hi":-0.55},
{"l":15,"v":0.225,"x":0,"lo":-4.7,"hi":3.6},{"l":15,"v":0.225,"x":0.63,"lo":-4.51,"hi":3.41},{"l":15,"v":0.225,"x":1.155,"lo":-4.02,"hi":2.92},{"l":15,"v":0.225,"x":1.575,"lo":-3.29,"hi":2.19},{"l":15,"v":0.225,"x":1.89,"lo":-2.36,"hi":1.26},{"l":15,"v":0.225,"x":2.037,"lo":-1.56,"hi":0.46},{"l":15,"v":0.225,"x":2.1,"lo":-0.55,"hi":-0.55},
{"l":2,"v":0.25,"x":0,"lo":-4.25,"hi":3.15},{"l":2,"v":0.25,"x":0.54,"lo":-4.08,"hi":2.98},{"l":2,"v":0.25,"x":0.99,"lo":-3.64,"hi":2.54},{"l":2,"v":0.25,"x":1.35,"lo":-3.0,"hi":1.9},{"l":2,"v":0.25,"x":1.62,"lo":-2.16,"hi":1.06},{"l":2,"v":0.25,"x":1.75,"lo":-1.45,"hi":0.35},{"l":2,"v":0.25,"x":1.8,"lo":-0.55,"hi":-0.55},
{"l":25,"v":0.275,"x":0,"lo":-3.95,"hi":2.85},{"l":25,"v":0.275,"x":0.48,"lo":-3.79,"hi":2.69},{"l":25,"v":0.275,"x":0.88,"lo":-3.39,"hi":2.29},{"l":25,"v":0.275,"x":1.2,"lo":-2.8,"hi":1.7},{"l":25,"v":0.275,"x":1.44,"lo":-2.03,"hi":0.93},{"l":25,"v":0.275,"x":1.552,"lo":-1.38,"hi":0.28},{"l":25,"v":0.275,"x":1.6,"lo":-0.55,"hi":-0.55},
{"l":3,"v":0.3,"x":0,"lo":-3.65,"hi":2.55},{"l":3,"v":0.3,"x":0.42,"lo":-3.51,"hi":2.41},{"l":3,"v":0.3,"x":0.77,"lo":-3.14,"hi":2.04},{"l":3,"v":0.3,"x":1.05,"lo":-2.6,"hi":1.5},{"l":3,"v":0.3,"x":1.26,"lo":-1.9,"hi":0.8},{"l":3,"v":0.3,"x":1.36,"lo":-1.3,"hi":0.2},{"l":3,"v":0.3,"x":1.4,"lo":-0.55,"hi":-0.55},
{"l":35,"v":0.325,"x":0,"lo":-3.4,"hi":2.3},{"l":35,"v":0.325,"x":0.375,"lo":-3.27,"hi":2.17},{"l":35,"v":0.325,"x":0.6875,"lo":-2.93,"hi":1.83},{"l":35,"v":0.325,"x":0.9375,"lo":-2.43,"hi":1.33},{"l":35,"v":0.325,"x":1.125,"lo":-1.79,"hi":0.69},{"l":35,"v":0.325,"x":1.2125,"lo":-1.24,"hi":0.14},{"l":35,"v":0.325,"x":1.25,"lo":-0.55,"hi":-0.55},
{"l":4,"v":0.35,"x":0,"lo":-3.15,"hi":2.05},{"l":4,"v":0.35,"x":0.33,"lo":-3.03,"hi":1.93},{"l":4,"v":0.35,"x":0.605,"lo":-2.72,"hi":1.62},{"l":4,"v":0.35,"x":0.825,"lo":-2.27,"hi":1.17},{"l":4,"v":0.35,"x":0.99,"lo":-1.68,"hi":0.58},{"l":4,"v":0.35,"x":1.067,"lo":-1.18,"hi":0.08},{"l":4,"v":0.35,"x":1.1,"lo":-0.55,"hi":-0.55},
{"l":45,"v":0.375,"x":0,"lo":-2.95,"hi":1.85},{"l":45,"v":0.375,"x":0.303,"lo":-2.84,"hi":1.74},{"l":45,"v":0.375,"x":0.556,"lo":-2.55,"hi":1.45},{"l":45,"v":0.375,"x":0.758,"lo":-2.14,"hi":1.04},{"l":45,"v":0.375,"x":0.909,"lo":-1.6,"hi":0.5},{"l":45,"v":0.375,"x":0.98,"lo":-1.13,"hi":0.03},{"l":45,"v":0.375,"x":1.01,"lo":-0.55,"hi":-0.55},
{"l":5,"v":0.4,"x":0,"lo":-2.75,"hi":1.65},{"l":5,"v":0.4,"x":0.276,"lo":-2.65,"hi":1.55},{"l":5,"v":0.4,"x":0.506,"lo":-2.39,"hi":1.29},{"l":5,"v":0.4,"x":0.69,"lo":-2.0,"hi":0.9},{"l":5,"v":0.4,"x":0.828,"lo":-1.51,"hi":0.41},{"l":5,"v":0.4,"x":0.892,"lo":-1.08,"hi":-0.02},{"l":5,"v":0.4,"x":0.92,"lo":-0.55,"hi":-0.55},
{"l":55,"v":0.425,"x":0,"lo":-2.45,"hi":1.35},{"l":55,"v":0.425,"x":0.25,"lo":-2.36,"hi":1.26},{"l":55,"v":0.425,"x":0.459,"lo":-2.14,"hi":1.04},{"l":55,"v":0.425,"x":0.626,"lo":-1.81,"hi":0.71},{"l":55,"v":0.425,"x":0.752,"lo":-1.38,"hi":0.28},{"l":55,"v":0.425,"x":0.81,"lo":-1.01,"hi":-0.09},{"l":55,"v":0.425,"x":0.835,"lo":-0.55,"hi":-0.55},
{"l":6,"v":0.45,"x":0,"lo":-2.2,"hi":1.1},{"l":6,"v":0.45,"x":0.225,"lo":-2.12,"hi":1.02},{"l":6,"v":0.45,"x":0.413,"lo":-1.93,"hi":0.83},{"l":6,"v":0.45,"x":0.563,"lo":-1.64,"hi":0.54},{"l":6,"v":0.45,"x":0.675,"lo":-1.27,"hi":0.17},{"l":6,"v":0.45,"x":0.728,"lo":-0.95,"hi":-0.15},{"l":6,"v":0.45,"x":0.75,"lo":-0.55,"hi":-0.55},
{"l":65,"v":0.475,"x":0,"lo":-1.97,"hi":0.87},{"l":65,"v":0.475,"x":0.207,"lo":-1.9,"hi":0.8},{"l":65,"v":0.475,"x":0.38,"lo":-1.74,"hi":0.64},{"l":65,"v":0.475,"x":0.518,"lo":-1.49,"hi":0.39},{"l":65,"v":0.475,"x":0.621,"lo":-1.17,"hi":0.07},{"l":65,"v":0.475,"x":0.669,"lo":-0.9,"hi":-0.2},{"l":65,"v":0.475,"x":0.69,"lo":-0.55,"hi":-0.55},
{"l":7,"v":0.5,"x":0,"lo":-1.8,"hi":0.7},{"l":7,"v":0.5,"x":0.189,"lo":-1.74,"hi":0.64},{"l":7,"v":0.5,"x":0.347,"lo":-1.59,"hi":0.49},{"l":7,"v":0.5,"x":0.473,"lo":-1.38,"hi":0.28},{"l":7,"v":0.5,"x":0.567,"lo":-1.1,"hi":0.0},{"l":7,"v":0.5,"x":0.611,"lo":-0.85,"hi":-0.25},{"l":7,"v":0.5,"x":0.63,"lo":-0.55,"hi":-0.55},
{"l":75,"v":0.53,"x":0,"lo":-1.67,"hi":0.57},{"l":75,"v":0.53,"x":0.177,"lo":-1.62,"hi":0.52},{"l":75,"v":0.53,"x":0.325,"lo":-1.49,"hi":0.39},{"l":75,"v":0.53,"x":0.443,"lo":-1.29,"hi":0.19},{"l":75,"v":0.53,"x":0.531,"lo":-1.04,"hi":-0.06},{"l":75,"v":0.53,"x":0.572,"lo":-0.82,"hi":-0.28},{"l":75,"v":0.53,"x":0.59,"lo":-0.55,"hi":-0.55},
{"l":8,"v":0.56,"x":0,"lo":-1.55,"hi":0.45},{"l":8,"v":0.56,"x":0.165,"lo":-1.5,"hi":0.4},{"l":8,"v":0.56,"x":0.303,"lo":-1.39,"hi":0.29},{"l":8,"v":0.56,"x":0.413,"lo":-1.21,"hi":0.11},{"l":8,"v":0.56,"x":0.495,"lo":-0.99,"hi":-0.11},{"l":8,"v":0.56,"x":0.534,"lo":-0.79,"hi":-0.31},{"l":8,"v":0.56,"x":0.55,"lo":-0.55,"hi":-0.55},
{"l":9,"v":0.63,"x":0,"lo":-1.4,"hi":0.3},{"l":9,"v":0.63,"x":0.144,"lo":-1.36,"hi":0.26},{"l":9,"v":0.63,"x":0.264,"lo":-1.26,"hi":0.16},{"l":9,"v":0.63,"x":0.36,"lo":-1.11,"hi":0.01},{"l":9,"v":0.63,"x":0.432,"lo":-0.92,"hi":-0.18},{"l":9,"v":0.63,"x":0.466,"lo":-0.76,"hi":-0.34},{"l":9,"v":0.63,"x":0.48,"lo":-0.55,"hi":-0.55},
{"l":10,"v":0.7,"x":0,"lo":-1.27,"hi":0.17},{"l":10,"v":0.7,"x":0.126,"lo":-1.24,"hi":0.14},{"l":10,"v":0.7,"x":0.231,"lo":-1.15,"hi":0.05},{"l":10,"v":0.7,"x":0.315,"lo":-1.03,"hi":-0.07},{"l":10,"v":0.7,"x":0.378,"lo":-0.86,"hi":-0.24},{"l":10,"v":0.7,"x":0.407,"lo":-0.72,"hi":-0.38},{"l":10,"v":0.7,"x":0.42,"lo":-0.55,"hi":-0.55},
{"l":11,"v":0.78,"x":0,"lo":-1.11,"hi":0.01},{"l":11,"v":0.78,"x":0.108,"lo":-1.08,"hi":-0.02},{"l":11,"v":0.78,"x":0.198,"lo":-1.02,"hi":-0.08},{"l":11,"v":0.78,"x":0.27,"lo":-0.92,"hi":-0.18},{"l":11,"v":0.78,"x":0.324,"lo":-0.79,"hi":-0.31},{"l":11,"v":0.78,"x":0.349,"lo":-0.69,"hi":-0.41},{"l":11,"v":0.78,"x":0.36,"lo":-0.55,"hi":-0.55},
{"l":12,"v":0.86,"x":0,"lo":-0.97,"hi":-0.13},{"l":12,"v":0.86,"x":0.09,"lo":-0.95,"hi":-0.15},{"l":12,"v":0.86,"x":0.165,"lo":-0.9,"hi":-0.2},{"l":12,"v":0.86,"x":0.225,"lo":-0.83,"hi":-0.27},{"l":12,"v":0.86,"x":0.27,"lo":-0.73,"hi":-0.37},{"l":12,"v":0.86,"x":0.291,"lo":-0.65,"hi":-0.45},{"l":12,"v":0.86,"x":0.3,"lo":-0.55,"hi":-0.55},
{"l":13,"v":0.93,"x":0,"lo":-0.85,"hi":-0.25},{"l":13,"v":0.93,"x":0.066,"lo":-0.84,"hi":-0.26},{"l":13,"v":0.93,"x":0.121,"lo":-0.8,"hi":-0.3},{"l":13,"v":0.93,"x":0.165,"lo":-0.75,"hi":-0.35},{"l":13,"v":0.93,"x":0.198,"lo":-0.68,"hi":-0.42},{"l":13,"v":0.93,"x":0.213,"lo":-0.62,"hi":-0.48},{"l":13,"v":0.93,"x":0.22,"lo":-0.55,"hi":-0.55},
{"l":14,"v":0.98,"x":0,"lo":-0.72,"hi":-0.38},{"l":14,"v":0.98,"x":0.036,"lo":-0.71,"hi":-0.39},{"l":14,"v":0.98,"x":0.066,"lo":-0.69,"hi":-0.41},{"l":14,"v":0.98,"x":0.09,"lo":-0.66,"hi":-0.44},{"l":14,"v":0.98,"x":0.108,"lo":-0.62,"hi":-0.48},{"l":14,"v":0.98,"x":0.116,"lo":-0.59,"hi":-0.51},{"l":14,"v":0.98,"x":0.12,"lo":-0.55,"hi":-0.55}],
"We":[
{"x":0.48,"lo":-0.52,"hi":-0.52},{"x":0.5,"lo":-0.6,"hi":-0.44},{"x":0.55,"lo":-0.69,"hi":-0.35},{"x":0.6,"lo":-0.76,"hi":-0.28},{"x":0.7,"lo":-0.89,"hi":-0.15},{"x":0.85,"lo":-1.08,"hi":0.04},{"x":1.0,"lo":-1.27,"hi":0.23},{"x":1.5,"lo":-1.88,"hi":0.84},{"x":2.0,"lo":-2.49,"hi":1.45},{"x":2.5,"lo":-3.1,"hi":2.06},{"x":3.0,"lo":-3.71,"hi":2.67}],
"F":[
{"l":1,"v":1.6,"x":0.45,"lo":-0.52,"hi":-0.52},{"l":1,"v":1.6,"x":0.6,"lo":-0.8,"hi":-0.24},{"l":1,"v":1.6,"x":0.8,"lo":-1.02,"hi":-0.02},{"l":1,"v":1.6,"x":1.0,"lo":-1.27,"hi":0.23},{"l":1,"v":1.6,"x":1.3,"lo":-1.57,"hi":0.53},{"l":1,"v":1.6,"x":1.6,"lo":-1.8,"hi":0.76},{"l":1,"v":1.6,"x":2.2,"lo":-2.02,"hi":0.98},{"l":1,"v":1.6,"x":3.0,"lo":-2.14,"hi":1.1},
{"l":2,"v":2.0,"x":0.55,"lo":-0.52,"hi":-0.52},{"l":2,"v":2.0,"x":0.8,"lo":-0.87,"hi":-0.17},{"l":2,"v":2.0,"x":1.0,"lo":-1.1,"hi":0.06},{"l":2,"v":2.0,"x":1.3,"lo":-1.37,"hi":0.33},{"l":2,"v":2.0,"x":1.6,"lo":-1.54,"hi":0.5},{"l":2,"v":2.0,"x":2.2,"lo":-1.74,"hi":0.7},{"l":2,"v":2.0,"x":3.0,"lo":-1.85,"hi":0.81},
{"l":3,"v":2.4,"x":0.72,"lo":-0.52,"hi":-0.52},{"l":3,"v":2.4,"x":1.0,"lo":-0.9,"hi":-0.14},{"l":3,"v":2.4,"x":1.3,"lo":-1.12,"hi":0.08},{"l":3,"v":2.4,"x":1.6,"lo":-1.28,"hi":0.24},{"l":3,"v":2.4,"x":2.2,"lo":-1.47,"hi":0.43},{"l":3,"v":2.4,"x":3.0,"lo":-1.6,"hi":0.56},
{"l":4,"v":2.8,"x":0.9,"lo":-0.52,"hi":-0.52},{"l":4,"v":2.8,"x":1.0,"lo":-0.72,"hi":-0.32},{"l":4,"v":2.8,"x":1.3,"lo":-0.92,"hi":-0.12},{"l":4,"v":2.8,"x":1.6,"lo":-1.07,"hi":0.03},{"l":4,"v":2.8,"x":2.2,"lo":-1.24,"hi":0.2},{"l":4,"v":2.8,"x":3.0,"lo":-1.37,"hi":0.33},
{"l":5,"v":3.3,"x":1.25,"lo":-0.52,"hi":-0.52},{"l":5,"v":3.3,"x":1.4,"lo":-0.67,"hi":-0.37},{"l":5,"v":3.3,"x":1.6,"lo":-0.82,"hi":-0.22},{"l":5,"v":3.3,"x":2.2,"lo":-1.02,"hi":-0.02},{"l":5,"v":3.3,"x":3.0,"lo":-1.16,"hi":0.12},
{"l":6,"v":3.8,"x":1.65,"lo":-0.52,"hi":-0.52},{"l":6,"v":3.8,"x":1.9,"lo":-0.67,"hi":-0.37},{"l":6,"v":3.8,"x":2.2,"lo":-0.8,"hi":-0.24},{"l":6,"v":3.8,"x":2.6,"lo":-0.92,"hi":-0.12},{"l":6,"v":3.8,"x":3.0,"lo":-1.02,"hi":-0.02},
{"l":7,"v":4.3,"x":2.0,"lo":-0.52,"hi":-0.52},{"l":7,"v":4.3,"x":2.3,"lo":-0.66,"hi":-0.38},{"l":7,"v":4.3,"x":2.6,"lo":-0.78,"hi":-0.26},{"l":7,"v":4.3,"x":3.0,"lo":-0.9,"hi":-0.14},
{"l":8,"v":4.8,"x":2.25,"lo":-0.52,"hi":-0.52},{"l":8,"v":4.8,"x":2.5,"lo":-0.62,"hi":-0.42},{"l":8,"v":4.8,"x":2.75,"lo":-0.72,"hi":-0.32},{"l":8,"v":4.8,"x":3.0,"lo":-0.8,"hi":-0.24},
{"l":9,"v":5.3,"x":2.45,"lo":-0.52,"hi":-0.52},{"l":9,"v":5.3,"x":2.7,"lo":-0.62,"hi":-0.42},{"l":9,"v":5.3,"x":3.0,"lo":-0.72,"hi":-0.32},
{"l":10,"v":5.8,"x":2.65,"lo":-0.52,"hi":-0.52},{"l":10,"v":5.8,"x":2.85,"lo":-0.59,"hi":-0.45},{"l":10,"v":5.8,"x":3.0,"lo":-0.65,"hi":-0.39},
{"l":11,"v":6.2,"x":2.82,"lo":-0.52,"hi":-0.52},{"l":11,"v":6.2,"x":3.0,"lo":-0.58,"hi":-0.46}],
"Wf":[
{"x":0.42,"lo":-0.52,"hi":-0.52},{"x":0.44,"lo":-0.6,"hi":-0.44},{"x":0.5,"lo":-0.7,"hi":-0.34},{"x":0.6,"lo":-0.83,"hi":-0.21},{"x":0.75,"lo":-1.02,"hi":-0.02},{"x":1.0,"lo":-1.33,"hi":0.29},{"x":1.5,"lo":-1.93,"hi":0.89},{"x":2.0,"lo":-2.53,"hi":1.49},{"x":2.5,"lo":-3.13,"hi":2.09},{"x":3.0,"lo":-3.73,"hi":2.69}]
},
"concat":[
{"width":150,"height":152,
 "layer":[
  {"encoding":{"x":{"field":"x","type":"quantitative","scale":{"domain":[-3.5,3.5],"nice":false,"zero":false},"axis":{"values":[-2,0,2],"title":"Momentum kₓ"}},
    "y":{"field":"y","type":"quantitative","scale":{"domain":[-2,2],"nice":false},"axis":{"values":[-1,0,1],"title":"Spin projection"}},
    "detail":{"field":"s"},
    "strokeDash":{"field":"t","type":"nominal","scale":{"domain":["+","-"],"range":[[1,0],[4,2.5]]},"legend":null}},
   "layer":[
    {"data":{"name":"Ag"},"mark":{"type":"line","color":"#d4d4d4","strokeWidth":1.5,"clip":true}},
    {"data":{"name":"Ak"},"mark":{"type":"line","color":"#ecc6e8","strokeWidth":1.5,"clip":true}},
    {"data":{"name":"A"},"mark":{"type":"line","strokeWidth":1.8,"clip":true},
     "encoding":{"color":{"field":"k","type":"nominal","scale":{"domain":["0","0.5","0.8","1"],"range":["#2b2f9e","#e09a45","#3ccf3c","#c4283a"]},
      "legend":{"orient":"none","legendX":37,"legendY":116.5,"columns":2,"title":null,"symbolSize":400,"clipHeight":13,"columnPadding":2}}}}
   ]},
  {"data":{"values":[{"label":"kᵧ"}]},"mark":{"type":"text","fontSize":13,"align":"center","baseline":"middle","color":"#111"},
   "encoding":{"x":{"datum":0.09},"y":{"datum":-0.89},"text":{"field":"label"}}}
 ]},
{"width":150,"height":152,
 "encoding":{"x":{"field":"x","type":"quantitative","scale":{"domain":[-3.5,3.5],"nice":false,"zero":false},"axis":{"values":[-2,0,2],"title":"Momentum kₓ"}},
  "y":{"field":"y","type":"quantitative","scale":{"domain":[-2,2],"nice":false},"axis":{"values":[-1,0,1],"title":"Spin projection"}},
  "detail":{"field":"s"},
  "strokeDash":{"field":"t","type":"nominal","scale":{"domain":["+","-"],"range":[[1,0],[4,2.5]]},"legend":null}},
 "layer":[
  {"data":{"name":"B"},"mark":{"type":"line","strokeWidth":1.8,"clip":true},
   "encoding":{"color":{"field":"k","type":"nominal","scale":{"domain":["0","0.5","0.8","1"],"range":["#2b2f9e","#e09a45","#3ccf3c","#c4283a"]},
    "legend":{"orient":"none","legendX":112,"legendY":79,"title":"kᵧ","symbolSize":150,"clipHeight":13}}}}
 ]},
{"width":150,"height":151,
 "title":{"text":"(c)","anchor":"start","frame":"bounds","offset":-6,"dx":-4},
 "encoding":{"x":{"field":"x","type":"quantitative","scale":{"domain":[-3.5,3.5],"nice":false,"zero":false},"axis":{"values":[-2,0,2],"title":"Momentum kᵧ"}},
  "y":{"field":"y","type":"quantitative","scale":{"domain":[-2,2],"nice":false},"axis":{"values":[-1,0,1],"title":"Spin projection"}},
  "detail":{"field":"s"},
  "strokeDash":{"field":"t","type":"nominal","scale":{"domain":["+","-"],"range":[[1,0],[4,2.5]]},
   "legend":{"orient":"none","legendX":8,"legendY":6,"title":null,"labelExpr":"datum.label == '+' ? 'ReSᵧ⁺' : 'ReSᵧ⁻'","symbolStrokeColor":"#111","symbolSize":190,"clipHeight":14}}},
 "layer":[
  {"data":{"name":"Cg"},"mark":{"type":"line","color":"#d4d4d4","strokeWidth":1.5,"clip":true}},
  {"data":{"name":"Ck"},"mark":{"type":"line","color":"#ecc6e8","strokeWidth":1.5,"clip":true}},
  {"data":{"name":"C"},"mark":{"type":"line","strokeWidth":1.8,"clip":true},
   "encoding":{"color":{"field":"k","type":"nominal","scale":{"domain":["0","0.5","0.8","1"],"range":["#2b2f9e","#e09a45","#3ccf3c","#c4283a"]},
    "legend":{"orient":"none","legendX":111,"legendY":83,"title":"kₓ","symbolSize":300,"clipHeight":13}}}}
 ]},
{"width":150,"height":151,
 "title":{"text":"(d)","anchor":"start","frame":"bounds","offset":-6,"dx":-4},
 "encoding":{"x":{"field":"x","type":"quantitative","scale":{"domain":[-3.5,3.5],"nice":false,"zero":false},"axis":{"values":[-2,0,2],"title":"Momentum kᵧ"}},
  "y":{"field":"y","type":"quantitative","scale":{"domain":[-2,2],"nice":false},"axis":{"values":[-1,0,1],"title":"Spin projection"}},
  "detail":{"field":"s"},
  "strokeDash":{"field":"t","type":"nominal","scale":{"domain":["+","-"],"range":[[1,0],[4,2.5]]},
   "legend":{"orient":"none","legendX":7,"legendY":6,"title":null,"labelExpr":"datum.label == '+' ? 'ImSᵧ⁺' : 'ImSᵧ⁻'","symbolStrokeColor":"#111","symbolSize":190,"clipHeight":14}}},
 "layer":[
  {"data":{"name":"D"},"mark":{"type":"line","strokeWidth":1.8,"clip":true},
   "encoding":{"color":{"field":"k","type":"nominal","scale":{"domain":["0","0.5","0.8","1"],"range":["#2b2f9e","#e09a45","#3ccf3c","#c4283a"]},
    "legend":{"orient":"none","legendX":110,"legendY":83,"title":"kₓ","symbolSize":150,"clipHeight":13}}}}
 ]},
{"width":150,"height":155,
 "view":{"fill":"#3b5de3","stroke":"#1a1a1a"},
 "title":{"text":"(e)","anchor":"start","frame":"bounds","offset":-2,"dx":-4},
 "layer":[
  {"data":{"name":"E"},"mark":{"type":"area","clip":true,"opacity":1},
   "encoding":{"x":{"field":"x","type":"quantitative","scale":{"domain":[0,3],"nice":false,"zero":false},"axis":null},
    "y":{"field":"lo","type":"quantitative","scale":{"domain":[-4.5,4.5],"nice":false,"zero":false},"axis":{"values":[-4,-2,0,2,4],"title":"Zeeman field B"}},
    "y2":{"field":"hi"},"detail":{"field":"l"},
    "color":{"field":"v","type":"quantitative","scale":{"domain":[0,0.18,0.3,0.45,0.56,0.68,0.82,1],"range":["#3b5de3","#3b5de3","#8fa4ee","#f3f3f6","#f8eea0","#f6d030","#ee8a22","#d02a1a"]},
     "legend":{"title":"ReΔSᵧ","orient":"right","offset":7,"padding":5,"gradientLength":126,"gradientThickness":7,"values":[0,0.2,0.4,0.6,0.8,1],"format":".1f","titlePadding":8,"labelOverlap":false,"labelFontSize":12,"titleFontSize":12.5}}}},
  {"data":{"name":"We"},"mark":{"type":"area","clip":true,"color":"#3b5de3","opacity":1},
   "encoding":{"x":{"field":"x","type":"quantitative","axis":null},"y":{"field":"lo","type":"quantitative","axis":{"values":[-4,-2,0,2,4],"title":"Zeeman field B"}},"y2":{"field":"hi"}}},
  {"data":{"name":"We"},"mark":{"type":"line","clip":true,"color":"#46cff7","strokeWidth":3.5,"strokeDash":[0.1,6],"strokeCap":"round"},
   "encoding":{"x":{"field":"x","type":"quantitative","axis":null},"y":{"field":"hi","type":"quantitative","axis":{"values":[-4,-2,0,2,4],"title":"Zeeman field B"}}}},
  {"data":{"name":"We"},"mark":{"type":"line","clip":true,"color":"#46cff7","strokeWidth":3.5,"strokeDash":[0.1,6],"strokeCap":"round"},
   "encoding":{"x":{"field":"x","type":"quantitative","axis":null},"y":{"field":"lo","type":"quantitative","axis":{"values":[-4,-2,0,2,4],"title":"Zeeman field B"}}}},
  {"data":{"values":[{}]},"mark":{"type":"rect","color":"black"},
   "encoding":{"x":{"datum":1.12,"axis":null},"x2":{"datum":1.94},"y":{"datum":2.67,"axis":{"values":[-4,-2,0,2,4],"title":"Zeeman field B"}},"y2":{"datum":3.55}}},
  {"data":{"values":[{}]},"mark":{"type":"text","text":"k","color":"white","fontSize":12,"align":"left","baseline":"middle","dx":-19},
   "encoding":{"x":{"datum":1.53,"axis":null},"y":{"datum":3.11,"axis":{"values":[-4,-2,0,2,4],"title":"Zeeman field B"}}}},
  {"data":{"values":[{}]},"mark":{"type":"text","text":"x,y","color":"white","fontSize":8.5,"align":"left","baseline":"middle","dx":-12.5,"dy":3.5},
   "encoding":{"x":{"datum":1.53,"axis":null},"y":{"datum":3.11,"axis":{"values":[-4,-2,0,2,4],"title":"Zeeman field B"}}}},
  {"data":{"values":[{}]},"mark":{"type":"text","text":"=0.5","color":"white","fontSize":12,"align":"left","baseline":"middle","dx":-2},
   "encoding":{"x":{"datum":1.53,"axis":null},"y":{"datum":3.11,"axis":{"values":[-4,-2,0,2,4],"title":"Zeeman field B"}}}}
 ]},
{"width":150,"height":155,
 "view":{"fill":"#3b5de3","stroke":"#1a1a1a"},
 "title":{"text":"(f)","anchor":"start","frame":"bounds","offset":-2,"dx":-4},
 "layer":[
  {"data":{"name":"F"},"mark":{"type":"area","clip":true,"opacity":1},
   "encoding":{"x":{"field":"x","type":"quantitative","scale":{"domain":[0,3],"nice":false,"zero":false},"axis":null},
    "y":{"field":"lo","type":"quantitative","scale":{"domain":[-4.5,4.5],"nice":false,"zero":false},"axis":{"values":[-4,-2,0,2,4],"title":"Zeeman field B"}},
    "y2":{"field":"hi"},"detail":{"field":"l"},
    "color":{"field":"v","type":"quantitative","scale":{"domain":[0,1.13,1.9,2.84,3.53,4.28,5.17,6.3],"range":["#3b5de3","#3b5de3","#8fa4ee","#f3f3f6","#f8eea0","#f6d030","#ee8a22","#d02a1a"]},
     "legend":{"title":"ImΔSᵧ","orient":"right","offset":8,"padding":5,"gradientLength":126,"gradientThickness":7,"values":[0,2,4,6],"format":"d","titlePadding":8,"labelOverlap":false,"labelFontSize":12,"titleFontSize":12.5}}}},
  {"data":{"name":"Wf"},"mark":{"type":"line","clip":true,"color":"#46cff7","strokeWidth":3.5,"strokeDash":[0.1,6],"strokeCap":"round"},
   "encoding":{"x":{"field":"x","type":"quantitative","axis":null},"y":{"field":"hi","type":"quantitative","axis":{"values":[-4,-2,0,2,4],"title":"Zeeman field B"}}}},
  {"data":{"name":"Wf"},"mark":{"type":"line","clip":true,"color":"#46cff7","strokeWidth":3.5,"strokeDash":[0.1,6],"strokeCap":"round"},
   "encoding":{"x":{"field":"x","type":"quantitative","axis":null},"y":{"field":"lo","type":"quantitative","axis":{"values":[-4,-2,0,2,4],"title":"Zeeman field B"}}}},
  {"data":{"values":[{}]},"mark":{"type":"rect","color":"black"},
   "encoding":{"x":{"datum":1.06,"axis":null},"x2":{"datum":1.9},"y":{"datum":2.67,"axis":{"values":[-4,-2,0,2,4],"title":"Zeeman field B"}},"y2":{"datum":3.55}}},
  {"data":{"values":[{}]},"mark":{"type":"text","text":"k","color":"white","fontSize":12,"align":"left","baseline":"middle","dx":-19},
   "encoding":{"x":{"datum":1.48,"axis":null},"y":{"datum":3.11,"axis":{"values":[-4,-2,0,2,4],"title":"Zeeman field B"}}}},
  {"data":{"values":[{}]},"mark":{"type":"text","text":"x,y","color":"white","fontSize":8.5,"align":"left","baseline":"middle","dx":-12.5,"dy":3.5},
   "encoding":{"x":{"datum":1.48,"axis":null},"y":{"datum":3.11,"axis":{"values":[-4,-2,0,2,4],"title":"Zeeman field B"}}}},
  {"data":{"values":[{}]},"mark":{"type":"text","text":"=0.5","color":"white","fontSize":12,"align":"left","baseline":"middle","dx":-2},
   "encoding":{"x":{"datum":1.48,"axis":null},"y":{"datum":3.11,"axis":{"values":[-4,-2,0,2,4],"title":"Zeeman field B"}}}}
 ]}
]
}
